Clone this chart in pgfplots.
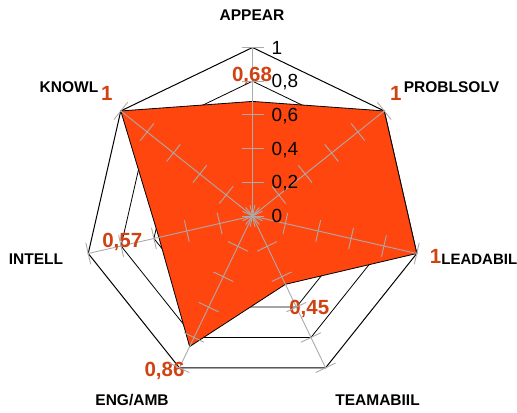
\documentclass[border=0pt]{standalone}
\usepackage{pgfplots}
\pgfplotsset{compat=1.18}
\usepackage{fontspec}
\setmainfont{Liberation Sans}
\definecolor{fillred}{RGB}{255,70,15}
\definecolor{labred}{RGB}{208,66,18}
\definecolor{spoke}{RGB}{170,170,170}
\begin{document}
\begin{tikzpicture}
\begin{axis}[
  hide axis, scale only axis, clip=false,
  x=168.5bp, y=168.5bp,
  xmin=-1.4985, xmax=1.5697, ymin=-1.1691, ymax=1.2819,
]
% grid heptagons
\pgfplotsinvokeforeach{0.2,0.4,0.6,0.8}{
  \addplot[black, line width=0.8bp, data cs=polar] coordinates {
    (90,#1) (38.571,#1) (-12.857,#1) (-64.286,#1) (-115.714,#1) (-167.143,#1) (141.429,#1) (90,#1)};
}
\addplot[black, line width=1bp, data cs=polar] coordinates {
    (90,1) (38.571,1) (-12.857,1) (-64.286,1) (-115.714,1) (-167.143,1) (141.429,1) (90,1)};
% data series
\addplot[fill=fillred, draw=black, line width=0.8bp, data cs=polar] coordinates {
  (90,0.68) (38.571,1) (-12.857,1) (-64.286,0.45) (-115.714,0.86) (-167.143,0.57) (141.429,1) (90,0.68)};
% spokes with tick marks
\pgfplotsinvokeforeach{90,38.571,-12.857,-64.286,-115.714,-167.143,141.429}{
  \addplot[spoke, line width=0.9bp, mark=-, mark size=11bp,
     mark options={rotate=#1-90, solid}, data cs=polar] coordinates {
     (#1,0) (#1,0.2) (#1,0.4) (#1,0.6) (#1,0.8) (#1,1)};
}
% scale labels
\begin{scope}[every node/.style={anchor=west, inner sep=0pt, font=\fontsize{19bp}{21bp}\selectfont, text depth=0pt}]
\node at (axis cs:0.113,0) {0};
\node at (axis cs:0.113,0.2) {0,2};
\node at (axis cs:0.113,0.4) {0,4};
\node at (axis cs:0.113,0.6) {0,6};
\node at (axis cs:0.113,0.8) {0,8};
\node at (axis cs:0.113,1) {1};
\end{scope}
% category labels
\begin{scope}[every node/.style={font=\fontsize{15.5bp}{17bp}\selectfont\bfseries, inner sep=0pt, anchor=center}]
\node at (axis cs:-0.003,1.193) {APPEAR};
\node at (axis cs:1.181,0.766) {PROBLSOLV};
\node[font=\fontsize{15bp}{17bp}\selectfont\bfseries] at (axis cs:1.346,-0.255) {LEADABIL};
\node at (axis cs:0.742,-1.092) {TEAMABIIL};
\node at (axis cs:-0.715,-1.092) {ENG/AMB};
\node at (axis cs:-1.285,-0.255) {INTELL};
\node at (axis cs:-1.089,0.766) {KNOWL};
\end{scope}
% value labels
\begin{scope}[every node/.style={font=\fontsize{20.5bp}{22bp}\selectfont\bfseries, text=labred, inner sep=0pt, anchor=center, text depth=0pt}]
\node at (axis cs:-0.003,0.843) {0,68};
\node at (axis cs:0.850,0.728) {1};
\node at (axis cs:1.086,-0.242) {1};
\node at (axis cs:0.337,-0.542) {0,45};
\node at (axis cs:-0.522,-0.909) {0,86};
\node at (axis cs:-0.773,-0.147) {0,57};
\node at (axis cs:-0.865,0.730) {1};
\end{scope}
\end{axis}
\pgfresetboundingbox
\path[use as bounding box] (current axis.south west) rectangle (current axis.north east);
\end{tikzpicture}
\end{document}
